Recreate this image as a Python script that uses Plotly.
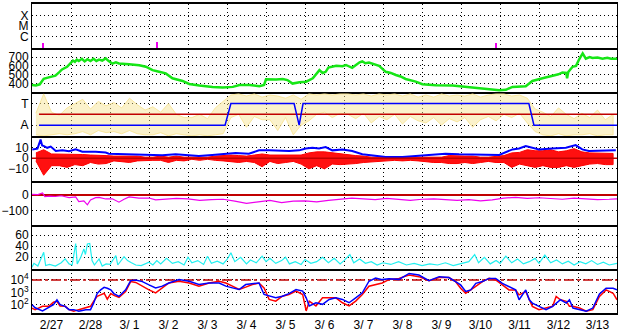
import numpy as np
import plotly.graph_objects as go
from plotly.subplots import make_subplots

# ---------------- data ----------------
day_labels = ["2/27", "2/28", "3/ 1", "3/ 2", "3/ 3", "3/ 4", "3/ 5", "3/ 6",
              "3/ 7", "3/ 8", "3/ 9", "3/10", "3/11", "3/12", "3/13"]

# flares (panel 1)
flare_day = [0.28, 3.20, 11.90]
flare_level = [0.42, 0.48, 0.42]

# solar wind speed (panel 2)
sw_day = [0.0, 0.1, 0.2, 0.3, 0.43, 0.6, 0.7, 0.77, 0.9, 1.0, 1.05, 1.1, 1.15, 1.2, 1.28, 1.35,
          1.42, 1.5, 1.58, 1.65, 1.72, 1.8, 1.89, 1.95, 2.06, 2.15, 2.23, 2.49, 2.75, 2.92,
          3.09, 3.26, 3.43, 3.6, 3.86, 4.03, 4.29, 4.63, 4.89, 5.15, 5.32, 5.58, 5.83, 5.95,
          6.0, 6.26, 6.43, 6.55, 6.68, 6.86, 7.03, 7.2, 7.37, 7.45, 7.53, 7.6, 7.7, 7.8,
          7.96, 8.05, 8.21, 8.3, 8.4, 8.47, 8.55, 8.64, 8.75, 8.9, 9.07, 9.2, 9.33, 9.45,
          9.58, 9.84, 10.01, 10.35, 10.78, 11.12, 11.55, 11.98, 12.15, 12.32, 12.66, 12.83,
          13.09, 13.35, 13.5, 13.6, 13.7, 13.72, 13.75, 13.86, 13.95, 14.03, 14.12, 14.2,
          14.3, 14.37, 14.5, 14.63, 14.75, 14.85, 14.97, 15.0]
sw_speed = [385, 380, 392, 455, 470, 490, 530, 560, 590, 640, 660, 645, 670, 655, 680, 650,
            675, 655, 680, 655, 670, 660, 685, 660, 626, 640, 628, 619, 608, 590,
            552, 533, 515, 460, 430, 396, 378, 363, 356, 363, 385, 385, 371, 385,
            449, 445, 452, 440, 400, 415, 422, 460, 552, 520, 533, 580, 590, 600,
            597, 610, 578, 610, 640, 650, 630, 637, 620, 600, 533, 520, 497, 480,
            452, 422, 393, 382, 378, 363, 348, 326, 330, 363, 371, 430,
            460, 489, 505, 526, 520, 460, 530, 590, 600, 674, 740, 681,
            700, 689, 695, 681, 690, 680, 674, 680]

# IMF sector (panel 3)
sector_day = [0.18, 4.95, 5.10, 6.72, 6.85, 6.95, 12.74, 12.87, 15.0]
sector_val = [-1, -1, 1, 1, -1, 1, 1, -1, -1]
sector_ref_day = [0.18, 15.0]
sector_ref_val = [0, 0]
phi_hi = [0.1, 1.9, 0.2, -0.1, 0.6, 1.0, 1.4, 0.5, 1.2, 0.8, 1.1, 0.6, 1.5, 0.9, 0.4,
          0.7, 0.2, 1.0, 0.0, -0.3, -0.3, 0.0, -0.4, 0.6, 1.2, 1.8, 1.9, 1.7, 1.9, 1.6,
          1.8, 1.7, 1.5, 1.8, 1.4, 1.9, 1.8, 1.9, 1.8, 1.9, 1.9, 1.8, 1.9, 1.7, 1.9,
          1.8, 1.9, 1.7, 1.9, 1.6, 1.8, 1.6, 1.9, 1.7, 1.8, 1.7, 1.9, 1.6, 1.8, 1.9,
          1.9, 1.7, 1.8, 1.5, 0.5, 0.2, -0.2, 0.6, 0.0, -0.4, 0.1, -0.3, 0.4, -0.5, 0.0]
phi_lo = [-1.9, -2.0, -1.9, -1.8, -1.9, -1.8, -1.6, -1.9, -1.5, -1.7, -1.6, -1.8, -1.5, -1.8, -1.9,
          -1.9, -1.7, -2.0, -1.8, -1.9, -2.0, -1.9, -2.0, -1.9, -1.8, -0.3, 0.0, -1.2, -0.2, -0.5,
          -0.5, -1.5, -0.3, -1.9, -1.0, -0.6, 0.0, 0.2, -0.3, 0.1, 0.0, -0.4, 0.1, -0.8, -0.2,
          -0.5, 0.0, -0.9, -0.2, -0.6, -0.8, -0.3, -1.0, -0.4, -0.7, -0.3, -1.2, -0.5, -0.2, -0.6,
          0.0, -0.3, 0.1, -0.8, -1.6, -1.9, -2.0, -1.8, -2.0, -1.9, -1.9, -1.8, -2.0, -1.9, -1.9]

# IMF Bt and Bz (panel 4)
bt_day = [0.008, 0.14, 0.22, 0.26, 0.31, 0.39, 0.48, 0.61, 0.78, 0.95, 1.12, 1.29, 1.63, 1.89,
          1.97, 2.49, 3.0, 3.34, 3.68, 4.03, 4.28, 4.62, 5.05, 5.22, 5.56, 5.82, 6.08, 6.25,
          6.59, 6.85, 7.02, 7.19, 7.36, 7.53, 7.7, 7.96, 8.21, 8.47, 8.82, 9.07, 9.5, 9.92,
          10.35, 10.6, 10.95, 11.3, 11.63, 11.98, 12.32, 12.49, 12.66, 12.83, 13.0, 13.34,
          13.69, 13.94, 14.11, 14.28, 14.62, 14.97]
bt_val = [8.3, 9.0, 17.5, 12.0, 11.4, 9.8, 11.0, 6.8, 7.4, 6.5, 8.3, 6.2, 6.2, 5.3,
          4.3, 3.7, 3.1, 2.8, 3.7, 2.8, 2.2, 3.1, 4.3, 4.9, 4.3, 7.4, 7.4, 7.0,
          6.8, 7.4, 9.2, 9.8, 9.2, 10.5, 7.4, 8.3, 6.8, 3.7, 2.2, 1.2, 1.2, 2.2,
          3.1, 4.3, 3.7, 3.7, 3.1, 3.1, 8.3, 9.2, 11.4, 9.8, 8.3, 9.2,
          9.8, 12.3, 8.3, 6.8, 6.8, 7.4]
bz_hi = [5, 8, 4, 4, 3.5, 4, 3.5, 3, 3, 2.5, 2, 2, 2, 2, 1, 1, 2, 1, 2, 1,
         1, 1, 1, 2, 2.5, 3, 2.5, 2, 3, 4, 3, 3, 2.5, 3, 3, 5, 6, 6, 5, 4,
         3, 2.5, 2, 1, 1, 1, 0.5, 0.5, 0.5, 1, 1, 1, 1, 2.5, 2, 2, 2, 1, 1, 2,
         2.5, 5, 5.5, 8, 7, 7, 8, 6, 7, 9, 6, 5, 5, 4.5, 4.5]
bz_lo = [-2.5, -16, -7, -7, -8.6, -6, -7, -4, -5.5, -5, -2.5, -3, -4, -2.5, -2.5, -2, -2, -4, -2, -2.5,
         -1, -2, -1, -2, -2.5, -3, -4, -3, -4, -8, -3, -5, -4, -3, -5.5, -10, -7, -10, -5.5, -6,
         -5.5, -5, -4, -3, -2.5, -2.5, -2, -2.5, -2, -2.5, -3, -4, -4, -5, -5, -4, -5, -4, -3, -4,
         -4, -8.6, -5.5, -7, -8.6, -7, -8.6, -8.6, -7, -8.6, -7, -5.5, -5, -6, -6]
bz_ref_day = [0.0, 15.0]
bz_ref_val = [0, 0]

# Dst (panel 5)
dst_day = [0, 0.15, 0.27, 0.33, 0.45, 0.6, 0.75, 0.95, 1.12, 1.2, 1.33, 1.42, 1.5, 1.63, 1.72,
           1.89, 2.06, 2.23, 2.36, 2.49, 2.74, 3.0, 3.17, 3.4, 3.7, 4.0, 4.3, 4.6, 4.9, 5.2,
           5.5, 5.8, 6.1, 6.4, 6.7, 7.0, 7.3, 7.6, 7.9, 8.2, 8.5, 8.8, 9.1, 9.4, 9.7, 10.0,
           10.3, 10.6, 10.9, 11.2, 11.5, 11.8, 12.1, 12.4, 12.7, 13.0, 13.3, 13.6, 13.9, 14.2,
           14.5, 14.8, 15.0]
dst_val = [4, 2, 13, -10, -8, -10, -5, -17, -13, -43, -38, -64, -32, -17, -16,
           -26, -25, -47, -28, -13, -21, -20, -32, -28, -22, -25, -35, -30, -28, -40,
           -55, -45, -35, -50, -40, -38, -45, -35, -28, -20, -25, -30, -22, -30, -35, -28,
           -25, -30, -35, -30, -38, -32, -20, -15, -22, -18, -25, -28, -20, -25,
           -30, -28, -25]

# geomagnetic activity (panel 6)
cy_day = [0, 0.05, 0.15, 0.27, 0.3, 0.35, 0.45, 0.6, 0.75, 0.85, 0.95, 1.03, 1.12, 1.16, 1.25,
          1.33, 1.37, 1.42, 1.48, 1.54, 1.6, 1.72, 1.8, 1.9, 2.0, 2.15, 2.2, 2.36, 2.45, 2.55,
          2.66, 2.8, 3.0, 3.1, 3.2, 3.3, 3.45, 3.6, 3.75, 3.9, 4.0, 4.1, 4.25, 4.4, 4.5, 4.6,
          4.75, 4.9, 5.0, 5.1, 5.2, 5.35, 5.5, 5.6, 5.75, 5.9, 6.0, 6.1, 6.25, 6.4, 6.5, 6.6,
          6.75, 6.9, 7.0, 7.15, 7.3, 7.45, 7.6, 7.75, 7.9, 8.0, 8.15, 8.25, 8.4, 8.55, 8.7,
          8.85, 9.0, 9.2, 9.4, 9.6, 9.8, 10.0, 10.2, 10.4, 10.6, 10.8, 11.0, 11.2, 11.35,
          11.45, 11.6, 11.75, 11.9, 12.0, 12.15, 12.3, 12.45, 12.6, 12.75, 12.9, 13.0, 13.15,
          13.3, 13.45, 13.6, 13.75, 13.9, 14.05, 14.2, 14.35, 14.5, 14.65, 14.8, 15.0]
cy_val = [2, 9, 4, 27, 29, 5, 7, 4, 10, 17, 8, 6, 45, 8, 20,
          35, 25, 44, 45, 14, 6, 17, 4, 8, 7, 23, 6, 21, 14, 10,
          6, 5, 11, 6, 14, 8, 18, 9, 12, 6, 20, 10, 14, 7, 22, 9,
          13, 8, 16, 28, 12, 20, 8, 15, 10, 22, 12, 18, 9, 14, 20, 8,
          12, 7, 16, 9, 12, 20, 10, 18, 8, 14, 25, 10, 17, 9, 12,
          6, 10, 7, 12, 6, 9, 5, 8, 6, 10, 5, 8, 12, 25,
          10, 20, 8, 14, 9, 22, 10, 17, 8, 12, 18, 9, 24,
          10, 15, 8, 13, 6, 12, 8, 14, 7, 11, 6, 9]

# electron flux (panel 7), log10 values
fx_day = [0.0, 0.08, 0.27, 0.43, 0.55, 0.64, 0.72, 0.85, 0.95, 1.07, 1.2, 1.38, 1.5, 1.58, 1.67,
          1.76, 1.85, 1.93, 2.02, 2.1, 2.23, 2.4, 2.53, 2.66, 2.83, 3.0, 3.17, 3.34, 3.51, 3.77,
          4.03, 4.28, 4.54, 4.8, 4.97, 5.14, 5.31, 5.48, 5.65, 5.82, 5.95, 6.08, 6.25, 6.42,
          6.59, 6.77, 6.94, 7.03, 7.11, 7.28, 7.45, 7.62, 7.79, 7.96, 8.13, 8.3, 8.47, 8.64,
          8.81, 8.98, 9.15, 9.41, 9.67, 9.92, 10.18, 10.44, 10.69, 10.86, 10.99, 11.12, 11.25,
          11.38, 11.55, 11.72, 11.89, 12.06, 12.23, 12.4, 12.49, 12.66, 12.75, 12.83, 13.0,
          13.18, 13.35, 13.44, 13.55, 13.7, 13.78, 13.87, 14.04, 14.21, 14.38, 14.55, 14.72,
          14.9, 15.0]
fx_red_log = [1.73, 1.6, 1.87, 1.87, 2.2, 2.27, 1.9, 1.87, 1.6, 1.47, 1.6, 1.73, 1.87, 2.27, 2.67,
              2.8, 2.93, 2.45, 2.9, 2.75, 2.6, 3.07, 3.87, 3.8, 3.47, 3.2, 2.96, 3.36, 3.76, 3.89,
              3.76, 3.5, 3.76, 3.89, 3.76, 3.5, 3.23, 3.42, 3.63, 3.76, 3.36, 2.43, 2.29, 2.69,
              2.83, 3.1, 2.83, 1.5, 2.29, 1.9, 2.56, 2.56, 2.56, 2.16, 1.9, 2.29, 2.83, 3.49,
              3.63, 3.76, 4.03, 4.13, 4.4, 4.27, 3.95, 4.2, 4.2, 3.87, 3.33, 2.93, 3.2,
              3.47, 3.87, 4.13, 4.0, 3.6, 3.2, 3.2, 2.8, 3.07, 2.4, 1.87, 1.6,
              1.73, 1.87, 2.67, 2.4, 2.27, 1.87, 1.87, 1.73, 1.47, 1.6, 2.67, 3.2,
              2.93, 2.4]
fx_blue_log = [2.0, 1.75, 1.5, 1.75, 2.0, 2.4, 2.0, 1.87, 1.6, 1.6, 1.47, 1.6, 1.6, 2.13, 2.9,
               3.2, 3.41, 3.33, 3.2, 2.9, 2.67, 3.2, 3.95, 4.0, 3.87, 3.6, 3.36, 3.5, 3.76, 4.03,
               3.89, 3.63, 3.76, 3.76, 3.5, 3.36, 3.23, 3.63, 3.7, 3.76, 2.83, 2.7, 2.56, 2.69,
               2.9, 3.23, 3.1, 2.56, 1.9, 2.16, 2.03, 2.43, 2.56, 2.43, 2.16, 2.56, 2.96, 3.9,
               4.16, 4.03, 4.1, 4.05, 4.53, 4.4, 3.95, 4.27, 4.2, 3.87, 3.6, 3.07, 3.2,
               3.73, 3.87, 4.13, 4.13, 3.73, 3.47, 3.2, 2.4, 3.2, 2.4, 2.13, 1.87,
               1.6, 1.87, 2.13, 2.4, 2.13, 2.4, 1.73, 1.6, 1.47, 1.73, 2.87, 3.33,
               3.33, 3.2]
flux_threshold = [1e4, 1e4]
threshold_day = [0.0, 15.0]

# ---------------- helpers ----------------
bin_c = np.arange(75) * 0.2 + 0.1


def band(hi, lo):
    xs = list(bin_c) + list(bin_c[::-1])
    ys = list(hi) + list(lo[::-1])
    return xs, ys


DARKRED = "#c00000"
GRID = dict(showgrid=True, gridcolor="black", griddash="1px,3px", gridwidth=1)

fig = make_subplots(rows=7, cols=1, shared_xaxes=True, vertical_spacing=0)

# panel 1
fig.add_trace(go.Bar(x=flare_day, y=flare_level, width=0.06, marker_color="#ee00ee",
                     marker_line_width=0), row=1, col=1)
# panel 2
fig.add_trace(go.Scatter(x=sw_day, y=sw_speed, mode="lines",
                         line=dict(color="#16e616", width=2.5)), row=2, col=1)
# panel 3
px_, py_ = band(phi_hi, phi_lo)
fig.add_trace(go.Scatter(x=px_, y=py_, mode="lines", fill="toself",
                         fillcolor="rgba(247,226,140,0.45)",
                         line=dict(color="rgba(247,226,140,0.8)", width=1)), row=3, col=1)
fig.add_trace(go.Scatter(x=sector_ref_day, y=sector_ref_val, mode="lines",
                         line=dict(color=DARKRED, width=1.5)), row=3, col=1)
fig.add_trace(go.Scatter(x=sector_day, y=sector_val, mode="lines",
                         line=dict(color="#0000ff", width=1.5)), row=3, col=1)
# panel 4
bx, by = band(bz_hi, bz_lo)
fig.add_trace(go.Scatter(x=bx, y=by, mode="lines", fill="toself", fillcolor="#ff1010",
                         line=dict(color="#ff0000", width=1)), row=4, col=1)
fig.add_trace(go.Scatter(x=bt_day, y=bt_val, mode="lines",
                         line=dict(color="#0000ff", width=2)), row=4, col=1)
fig.add_trace(go.Scatter(x=bz_ref_day, y=bz_ref_val, mode="lines",
                         line=dict(color=DARKRED, width=1.5)), row=4, col=1)
# panel 5
fig.add_trace(go.Scatter(x=dst_day, y=dst_val, mode="lines",
                         line=dict(color="#ee00ee", width=1.2)), row=5, col=1)
# panel 6
fig.add_trace(go.Scatter(x=cy_day, y=cy_val, mode="lines",
                         line=dict(color="#22f0f0", width=1.2)), row=6, col=1)
# panel 7
fig.add_trace(go.Scatter(x=threshold_day, y=flux_threshold, mode="lines",
                         line=dict(color=DARKRED, width=1.5, dash="10px,3px,3px,3px")), row=7, col=1)
fig.add_trace(go.Scatter(x=fx_day, y=[10 ** v for v in fx_red_log], mode="lines",
                         line=dict(color="#ff0000", width=1.5)), row=7, col=1)
fig.add_trace(go.Scatter(x=fx_day, y=[10 ** v for v in fx_blue_log], mode="lines",
                         line=dict(color="#0000ff", width=1.5)), row=7, col=1)

# axes
for r in range(1, 8):
    fig.update_xaxes(row=r, col=1, range=[0, 15], showline=True, mirror=(r == 1),
                     linecolor="black", linewidth=2, ticks="", showgrid=False,
                     zeroline=False, tickmode="array",
                     tickvals=[i + 0.5 for i in range(15)], ticktext=day_labels,
                     minor=dict(tickmode="array", tickvals=list(range(1, 15)), ticks="",
                                **GRID))
    fig.update_yaxes(row=r, col=1, showline=True, mirror=True, linecolor="black",
                     linewidth=1, ticks="", zeroline=False, tickmode="array", **GRID,
                     domain=[1 - r / 7, 1 - (r - 1) / 7])

fig.update_yaxes(row=1, col=1, range=[-0.05, 4.05], tickvals=[1, 2, 3], ticktext=["C", "M", "X"])
fig.update_yaxes(row=2, col=1, range=[302, 800], tickvals=[400, 500, 600, 700])
fig.update_yaxes(row=3, col=1, range=[-2.05, 2.05], tickvals=[-1, 1], ticktext=["A", "T"])
fig.update_yaxes(row=4, col=1, range=[-21, 20.5], tickvals=[-10, 0, 10])
fig.update_yaxes(row=5, col=1, range=[-194, 94], tickvals=[-100, 0],
                 zeroline=True, zerolinecolor=DARKRED, zerolinewidth=1.5)
fig.update_yaxes(row=6, col=1, range=[-1, 79], tickvals=[20, 40, 60])
fig.update_yaxes(row=7, col=1, type="log", range=[1.33, 4.9], tickvals=[100, 1000, 10000],
                 ticktext=["10<sup>2</sup>", "10<sup>3</sup>", "10<sup>4</sup>"])

fig.update_layout(width=628, height=334, margin=dict(l=32, r=11, t=2, b=17),
                  paper_bgcolor="white", plot_bgcolor="white", showlegend=False,
                  font=dict(family="Liberation Sans, Arial, sans-serif", size=12, color="black"),
                  bargap=0)

fig.write_html("out.html")
